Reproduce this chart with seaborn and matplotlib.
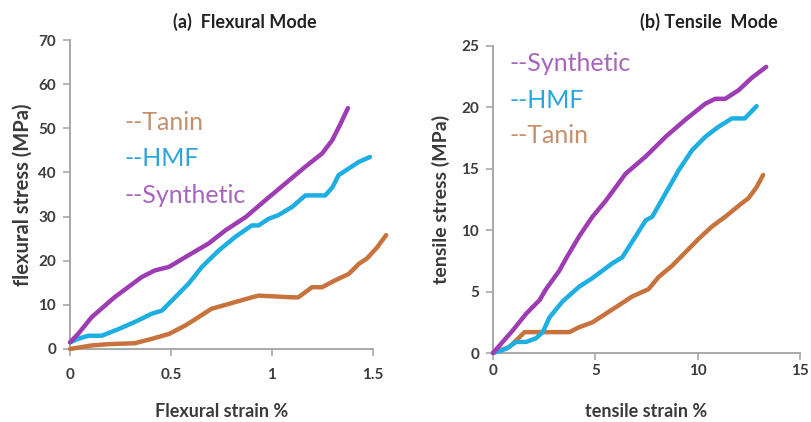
import numpy as np
import pandas as pd
import matplotlib
matplotlib.use("Agg")
import matplotlib.pyplot as plt
import seaborn as sns

# ---- Flexural mode curves (strain %, stress MPa) ----
flex_syn_x = [0, 0.04, 0.107, 0.22, 0.355, 0.42, 0.49, 0.60, 0.686, 0.77, 0.87, 0.967,
              1.066, 1.165, 1.248, 1.298, 1.34, 1.376]
flex_syn_y = [1.5, 3.4, 7.2, 11.7, 16.3, 17.8, 18.6, 21.6, 23.9, 26.9, 29.9, 33.7,
              37.5, 41.3, 44.3, 47.3, 51.1, 54.6]

flex_hmf_x = [0, 0.04, 0.09, 0.157, 0.24, 0.32, 0.405, 0.455, 0.52, 0.587, 0.653, 0.736,
              0.818, 0.90, 0.934, 0.983, 1.03, 1.10, 1.165, 1.264, 1.30, 1.33, 1.38, 1.43, 1.485]
flex_hmf_y = [1.5, 2.3, 3.0, 3.0, 4.5, 6.1, 8.0, 8.7, 11.7, 14.8, 18.6, 22.3,
              25.4, 28.0, 28.0, 29.5, 30.3, 32.2, 34.8, 34.8, 36.7, 39.4, 40.9, 42.4, 43.5]

flex_tan_x = [0, 0.107, 0.19, 0.32, 0.405, 0.49, 0.57, 0.636, 0.70, 0.80, 0.90, 0.934,
              1.10, 1.13, 1.198, 1.248, 1.31, 1.38, 1.43, 1.47, 1.52, 1.565]
flex_tan_y = [0, 0.8, 1.1, 1.3, 2.3, 3.4, 5.3, 7.2, 9.1, 10.4, 11.7, 12.1,
              11.7, 11.7, 14.0, 14.0, 15.5, 17.0, 19.3, 20.5, 23.0, 25.8]

# ---- Tensile mode curves (strain %, stress MPa) ----
ten_syn_x = [0, 0.97, 1.62, 2.27, 2.59, 3.24, 3.57, 4.21, 4.86, 5.51, 6.48, 7.46, 8.43,
             9.4, 10.37, 10.86, 11.35, 12.0, 12.64, 13.35]
ten_syn_y = [0, 1.85, 3.2, 4.3, 5.2, 6.7, 7.7, 9.5, 11.1, 12.4, 14.6, 16.0, 17.6,
             19.0, 20.3, 20.7, 20.7, 21.4, 22.4, 23.3]

ten_hmf_x = [0, 0.65, 1.13, 1.62, 2.1, 2.43, 2.76, 3.4, 4.21, 4.86, 5.83, 6.32, 6.97,
             7.46, 7.78, 8.43, 9.08, 9.72, 10.37, 11.0, 11.67, 12.3, 12.88]
ten_hmf_y = [0, 0.35, 0.9, 0.9, 1.2, 1.7, 2.9, 4.2, 5.4, 6.1, 7.3, 7.8, 9.5,
             10.8, 11.1, 13.0, 14.9, 16.5, 17.6, 18.4, 19.1, 19.1, 20.1]

ten_tan_x = [0, 0.81, 1.3, 1.54, 2.59, 3.73, 4.21, 4.86, 5.51, 6.16, 6.8, 7.6, 8.1,
             8.75, 9.4, 10.05, 10.7, 11.35, 12.16, 12.48, 12.88, 13.2]
ten_tan_y = [0, 0.5, 1.3, 1.7, 1.7, 1.7, 2.1, 2.5, 3.2, 3.9, 4.6, 5.2, 6.2,
             7.1, 8.2, 9.3, 10.3, 11.1, 12.2, 12.6, 13.5, 14.5]

flex_ticks_x = [0, 0.5, 1, 1.5]
flex_ticklabels_x = ["0", "0.5", "1", "1.5"]
flex_ticks_y = [0, 10, 20, 30, 40, 50, 60, 70]
ten_ticks_x = [0, 5, 10, 15]
ten_ticks_y = [0, 5, 10, 15, 20, 25]

C_SYN = "#9E3DB3"
C_HMF = "#1DAEE4"
C_TAN = "#C8733D"
T_SYN = "#A866BC"
T_HMF = "#2AA6DE"
T_TAN = "#C4906C"

sns.set_theme(style="white")
plt.rcParams["font.family"] = ["Lato", "DejaVu Sans"]

fig = plt.figure(figsize=(8.11, 4.22), dpi=100)
ax1 = fig.add_axes([0.0863, 0.173, 0.3736, 0.732])
ax2 = fig.add_axes([0.6079, 0.1635, 0.3785, 0.7275])


def frame(xs, ys):
    return pd.DataFrame({"x": xs, "y": ys})


def draw(ax, series):
    for xs, ys, c in series:
        sns.lineplot(data=frame(xs, ys), x="x", y="y", ax=ax, color=c, lw=3.2,
                     sort=False, estimator=None, clip_on=False, zorder=3)


draw(ax1, [(flex_tan_x, flex_tan_y, C_TAN),
           (flex_hmf_x, flex_hmf_y, C_HMF),
           (flex_syn_x, flex_syn_y, C_SYN)])
draw(ax2, [(ten_tan_x, ten_tan_y, C_TAN),
           (ten_hmf_x, ten_hmf_y, C_HMF),
           (ten_syn_x, ten_syn_y, C_SYN)])

ax1.set_xlim(0, 1.5)
ax1.set_ylim(0, 70)
ax1.set_xticks(flex_ticks_x)
ax1.set_xticklabels(flex_ticklabels_x)
ax1.set_yticks(flex_ticks_y)
ax2.set_xlim(0, 15)
ax2.set_ylim(0, 25)
ax2.set_xticks(ten_ticks_x)
ax2.set_yticks(ten_ticks_y)

for ax in (ax1, ax2):
    sns.despine(ax=ax)
    for s in ("left", "bottom"):
        ax.spines[s].set_color("#A8A8A8")
        ax.spines[s].set_linewidth(1.4)
    ax.tick_params(axis="both", which="major", length=5, width=1.2, color="#A8A8A8",
                   labelcolor="#3C3C3C", labelsize=11, bottom=True, left=True)
    for lab in ax.get_xticklabels() + ax.get_yticklabels():
        lab.set_fontweight("bold")

ax1.tick_params(axis="x", pad=9)
ax1.tick_params(axis="y", pad=5)
ax2.tick_params(axis="x", pad=3)
ax2.tick_params(axis="y", pad=5)

ax1.set_xlabel("Flexural strain %", fontsize=13, fontweight="bold", color="#3A3A3A", labelpad=15)
ax1.set_ylabel("flexural stress (MPa)", fontsize=14.5, fontweight="bold", color="#3A3A3A", labelpad=4)
ax2.set_xlabel("tensile strain %", fontsize=13, fontweight="bold", color="#3A3A3A", labelpad=18)
ax2.set_ylabel("tensile stress (MPa)", fontsize=14, fontweight="bold", color="#3A3A3A", labelpad=8)

fig.text(245 / 811, 1 - 22 / 422, "(a)  Flexural Mode", ha="center", va="center",
         fontsize=13, fontweight="bold", color="#222222")
fig.text(709 / 811, 1 - 22 / 422, "(b) Tensile  Mode", ha="center", va="center",
         fontsize=13, fontweight="bold", color="#222222")

# in-plot series labels
for txt, c, yv in (("--Tanin", T_TAN, 51.3), ("--HMF", T_HMF, 43.2), ("--Synthetic", T_SYN, 34.8)):
    ax1.text(0.27, yv, txt, color=c, fontsize=18, ha="left", va="center")
for txt, c, yv in (("--Synthetic", T_SYN, 23.6), ("--HMF", T_HMF, 20.6), ("--Tanin", T_TAN, 17.75)):
    ax2.text(0.83, yv, txt, color=c, fontsize=18, ha="left", va="center")

fig.savefig("out.png", dpi=100)
